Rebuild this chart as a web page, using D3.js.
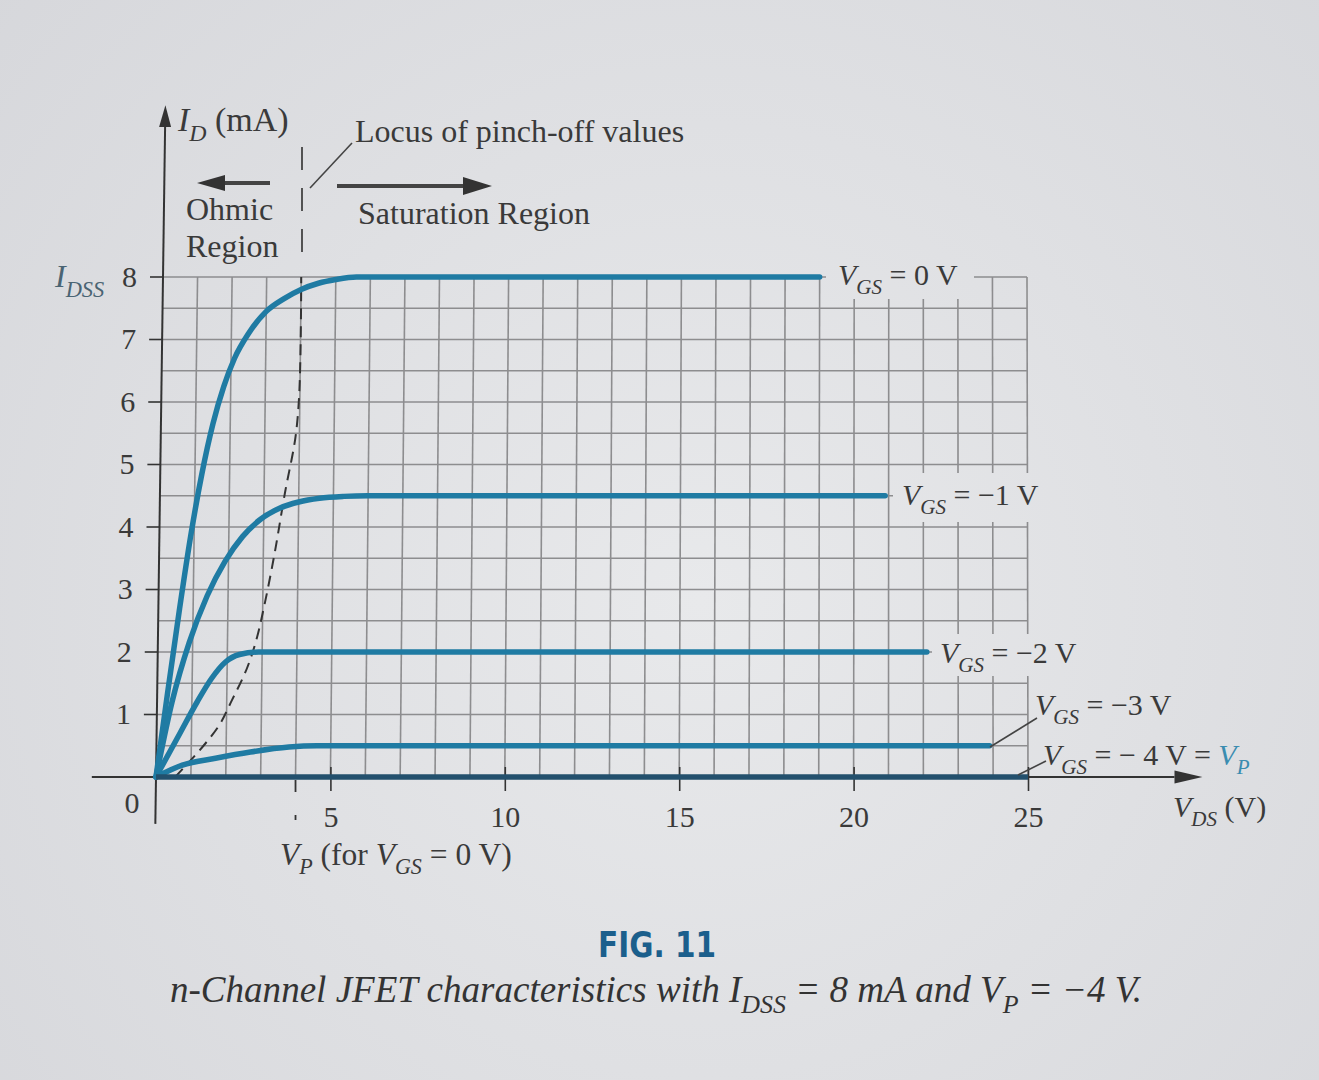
<!DOCTYPE html>
<html><head><meta charset="utf-8">
<script src="https://cdn.jsdelivr.net/npm/d3@7"></script>
<style>body{margin:0;background:#e2e3e5}svg{display:block}</style>
</head><body><svg id="c" width="1319" height="1080"></svg>
<script>
// ---------- data ----------
const vdsTicks = [5, 10, 15, 20, 25];
const idTicks = [1, 2, 3, 4, 5, 6, 7, 8];
const vgsValues = ["0", "−1", "−2", "−3", "− 4"];
// [V_DS (V), I_D (mA)]
const vgs0  = [[0,0],[0.3,1.35],[0.6,2.65],[0.9,3.85],[1.2,4.85],[1.5,5.65],[1.8,6.25],[2.1,6.7],[2.5,7.1],[3,7.45],[3.5,7.65],[4,7.8],[4.5,7.9],[5,7.96],[5.6,8],[19.0,8]];
const vgsM1 = [[0,0],[0.43,1.2],[0.9,2.15],[1.4,2.9],[1.9,3.45],[2.4,3.85],[2.9,4.12],[3.45,4.3],[4,4.4],[4.6,4.46],[5.3,4.49],[6,4.5],[20.9,4.5]];
const vgsM2 = [[0,0],[0.67,0.7],[1.15,1.2],[1.56,1.58],[1.95,1.84],[2.35,1.96],[2.9,2.0],[22.1,2]];
const vgsM3 = [[0,0],[0.75,0.19],[1.7,0.3],[2.7,0.4],[3.8,0.48],[4.6,0.5],[23.9,0.5]];
const vgsM4 = [[0,0],[25,0]];
const pinchLocus = [[0.55,0],[0.91,0.22],[1.35,0.5],[1.76,0.8],[2.15,1.23],[2.57,1.74],[2.85,2.24],[3.03,2.7],[3.3,3.5],[3.6,4.54],[3.9,5.5],[4.0,6.6],[4.0,8]];
const vpForVgs0 = 4;

// ---------- setup ----------
const W = 1319, H = 1080;
const svg = d3.select("#c");
const defs = svg.append("defs");
const rg = defs.append("radialGradient").attr("id","bg").attr("gradientUnits","userSpaceOnUse")
  .attr("cx",700).attr("cy",600).attr("r",950);
rg.append("stop").attr("offset","0%").attr("stop-color","#e8e9eb");
rg.append("stop").attr("offset","100%").attr("stop-color","#d6d7db");
svg.append("rect").attr("width",W).attr("height",H).attr("fill","url(#bg)");

// slight keystone of the photographed page: bottom and top x-scales
const xB = d3.scaleLinear().domain([0,25]).range([156,1028]);
const xT = d3.scaleLinear().domain([0,25]).range([163,1027]);
const y  = d3.scaleLinear().domain([0,8]).range([777,277]);
const xAt = (v,i) => xB(v) + (xT(v)-xB(v))*(i/8);

const TXT = "#3a3a3a", GRID = "#8d8d8f", SERIF = "'Liberation Serif','Times New Roman',serif";
const BLUE = "#1f7ba3", DARK = "#23506d";

// ---------- grid ----------
const gGrid = svg.append("g");
gGrid.selectAll("line.v").data(d3.range(1,26)).join("line")
  .attr("x1",d=>xAt(d,0)).attr("x2",d=>xAt(d,8)).attr("y1",y(0)).attr("y2",y(8))
  .attr("stroke",GRID).attr("stroke-width",1.6);
gGrid.selectAll("line.h").data(d3.range(1,17).map(i=>i*0.5)).join("line")
  .attr("x1",d=>xAt(0,d)).attr("x2",d=>xAt(25,d)).attr("y1",d=>y(d)).attr("y2",d=>y(d))
  .attr("stroke",GRID).attr("stroke-width",1.6);

// label backgrounds that interrupt grid
[[826,252,148,47],[893,473,150,49],[932,634,152,42]].forEach(r=>{
  svg.append("rect").attr("x",r[0]).attr("y",r[1]).attr("width",r[2]).attr("height",r[3]).attr("fill","url(#bg)");
});

// ---------- axes ----------
const gAx = svg.append("g");
gAx.append("line").attr("x1",xAt(0,-0.75)).attr("x2",xAt(0,10.4)).attr("y1",y(-0.75)).attr("y2",y(10.4))
  .attr("stroke","#333").attr("stroke-width",2);
const ax = xAt(0,10.4);
gAx.append("path").attr("d",`M${ax-6},${y(10.4)} L${xAt(0,10.75)},${y(10.75)} L${ax+6},${y(10.4)} Z`).attr("fill","#333");
gAx.append("line").attr("x1",xB(-1.84)).attr("x2",xB(29.2)).attr("y1",y(0)).attr("y2",y(0))
  .attr("stroke","#333").attr("stroke-width",2);
gAx.append("path").attr("d",`M${xB(29.2)},${y(0)-6.5} L${xB(30)},${y(0)} L${xB(29.2)},${y(0)+6.5} Z`).attr("fill","#333");

const yAxis = gAx.append("g")
  .call(d3.axisLeft(y).tickValues(idTicks).tickSize(13).tickPadding(13).tickFormat(d3.format("d")));
yAxis.select(".domain").remove();
yAxis.selectAll(".tick").attr("transform",d=>`translate(${xAt(0,d)},${y(d)})`);
yAxis.selectAll("line").attr("stroke","#333").attr("stroke-width",1.6);
yAxis.selectAll("text").attr("font-family",SERIF).attr("font-size",30).attr("fill",TXT);

const xAxis = gAx.append("g").attr("transform",`translate(0,${y(0)})`)
  .call(d3.axisBottom(xB).tickValues(vdsTicks).tickSize(14).tickPadding(15).tickFormat(d3.format("d")));
xAxis.select(".domain").remove();
xAxis.selectAll("line").attr("y1",-10).attr("stroke","#333").attr("stroke-width",1.6);
xAxis.selectAll("text").attr("font-family",SERIF).attr("font-size",30).attr("fill",TXT);

svg.append("text").attr("x",132).attr("y",813).attr("text-anchor","middle")
  .attr("font-family",SERIF).attr("font-size",30).attr("fill",TXT).text("0");

// ---------- curves ----------
const gC = svg.append("g");
const lineX = d3.line().x(d=>xAt(d[0],d[1])).y(d=>y(d[1])).curve(d3.curveMonotoneX);
const lineY = d3.line().x(d=>xAt(d[0],d[1])).y(d=>y(d[1])).curve(d3.curveMonotoneY);
gC.append("path").attr("d",lineY(pinchLocus)).attr("fill","none")
  .attr("stroke","#333").attr("stroke-width",2).attr("stroke-dasharray","11,7");
gC.append("line").attr("x1",xB(vpForVgs0)).attr("x2",xB(vpForVgs0)).attr("y1",y(0)+3).attr("y2",y(0)+43)
  .attr("stroke","#333").attr("stroke-width",1.8).attr("stroke-dasharray","12,23,6");
[vgs0,vgsM1,vgsM2,vgsM3].forEach(s=>{
  gC.append("path").attr("d",lineX(s)).attr("fill","none").attr("stroke",BLUE)
    .attr("stroke-width",5.5).attr("stroke-linecap","round").attr("stroke-linejoin","round");
});
gC.append("path").attr("d",lineX(vgsM4)).attr("fill","none").attr("stroke",DARK).attr("stroke-width",5.5);

// ---------- annotations ----------
const ann = svg.append("g");
function label(xp, yp, parts, size){
  const t = ann.append("text").attr("x",xp).attr("y",yp).attr("font-family",SERIF)
    .attr("font-size",size).attr("fill",TXT);
  let shift = 0;
  parts.forEach(p=>{
    const [txt, st] = p;
    const ts = t.append("tspan").text(txt);
    const sub = st.includes("s");
    const target = sub ? Math.round(size*0.3) : 0;
    ts.attr("dy", target - shift); shift = target;
    if (sub) ts.attr("font-size", size*0.7);
    if (st.includes("i")) ts.attr("font-style","italic");
    if (st.includes("c")) ts.attr("fill","#3a8cb0");
  });
  return t;
}
label(178,131,[["I","i"],["D","is"],[" (mA)","n"]],34);
label(355,142,[["Locus of pinch-off values","n"]],32);
label(186,220,[["Ohmic","n"]],32);
label(186,257,[["Region","n"]],32);
label(358,224,[["Saturation Region","n"]],32);
label(55,287,[["I","i"],["DSS","is"]],32).attr("fill","#4a6473");

const labPos = [[838,285],[902,505],[940,663],[1035,715],[1043,765]];
vgsValues.forEach((v,i)=>{
  const parts = [["V","i"],["GS","is"],[" = "+v+" V","n"]];
  if (i===4) { parts.push([" = ","n"]); parts.push(["V","ic"]); parts.push(["P","isc"]); }
  label(labPos[i][0], labPos[i][1], parts, 30);
});
label(1173,817,[["V","i"],["DS","is"],[" (V)","n"]],30);
label(280,865,[["V","i"],["P","is"],[" (for ","n"],["V","i"],["GS","is"],[" = 0 V)","n"]],31.5);

const L = (x1,y1,x2,y2,w,dash)=>ann.append("line").attr("x1",x1).attr("y1",y1).attr("x2",x2).attr("y2",y2)
  .attr("stroke","#444").attr("stroke-width",w||1.6).attr("stroke-dasharray",dash||null);
L(990,747,1037,718);
L(1018,775,1046,761);
L(310,188,352,143);
L(302,147,302,265,1.8,"23,18");
L(222,183,270,183,4);
ann.append("path").attr("d","M225,175 L197,183 L225,191 Z").attr("fill","#333");
L(337,186,466,186,4);
ann.append("path").attr("d","M463,177 L492,186 L463,195 Z").attr("fill","#333");

// caption
svg.append("text").attr("x",657).attr("y",957).attr("text-anchor","middle")
  .attr("font-family","'Liberation Sans Narrow','DejaVu Sans Condensed',sans-serif").attr("font-weight","bold")
  .attr("font-size",35).attr("fill","#1b5f8c").attr("textLength",118).attr("lengthAdjust","spacingAndGlyphs").text("FIG. 11");
const cap = label(170,1002,[["n-Channel JFET characteristics with ","i"],["I","i"],["DSS","is"],[" = 8 mA and ","i"],["V","i"],["P","is"],[" = −4 V.","i"]],37);
cap.attr("textLength",972).attr("lengthAdjust","spacingAndGlyphs").attr("fill","#333");
</script></body></html>
